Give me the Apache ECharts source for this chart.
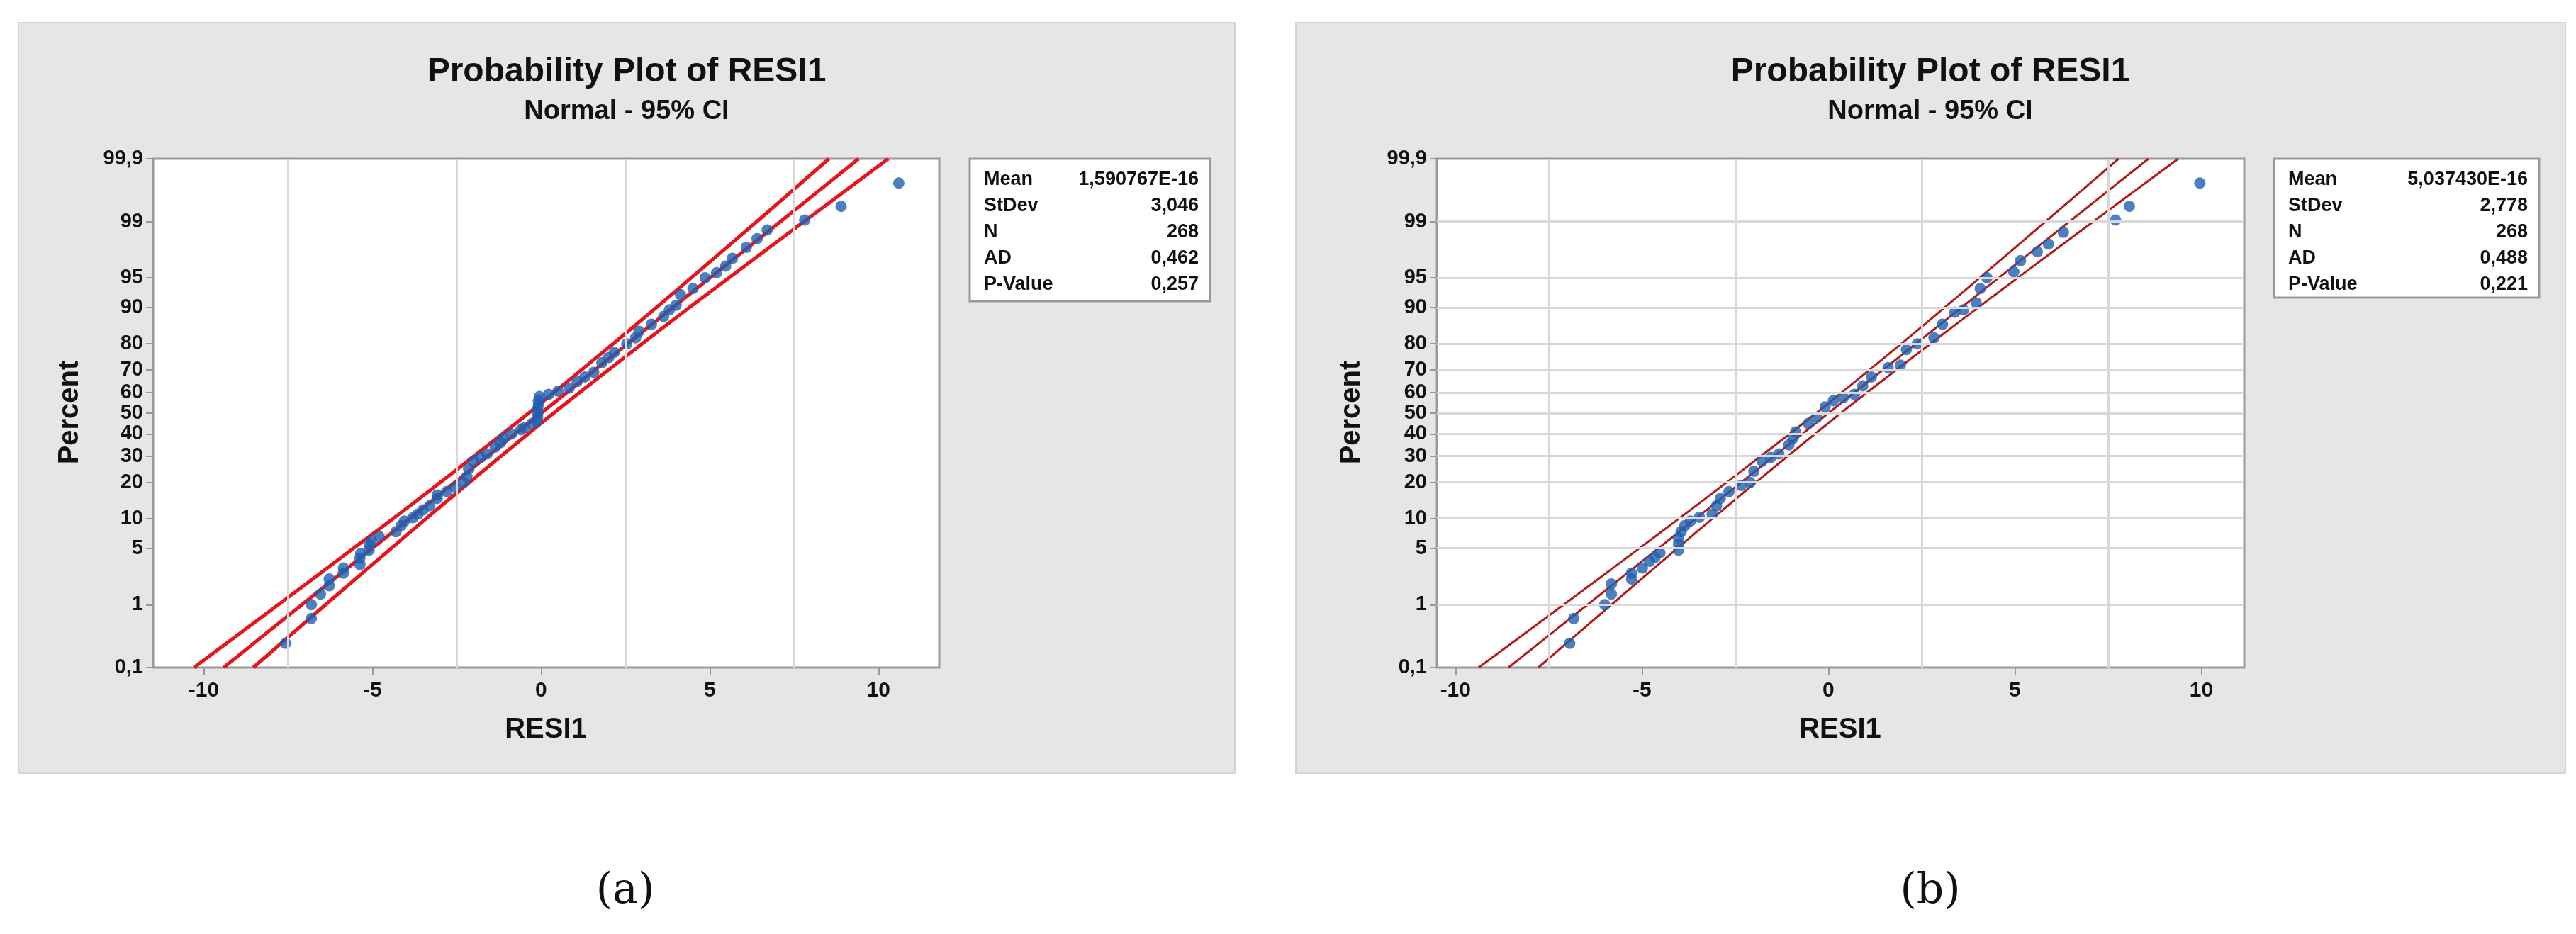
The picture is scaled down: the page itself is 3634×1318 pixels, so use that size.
<!DOCTYPE html>
<html>
<head>
<meta charset="utf-8">
<title>Probability Plot of RESI1</title>
<script src="https://cdn.jsdelivr.net/npm/echarts@6/dist/echarts.min.js"></script>
<style>
  html, body { margin: 0; padding: 0; background: #fff; }
  #main { width: 3634px; height: 1318px; }
</style>
</head>
<body>
<div id="main"></div>
<script>
// percent tick labels on the probability axis
var pctTicks = [0.1, 1, 5, 10, 20, 30, 40, 50, 60, 70, 80, 90, 95, 99, 99.9];
var xTicks = [-10, -5, 0, 5, 10];
var xGrid = [-7.5, -2.5, 2.5, 7.5];

// fit line + 95% CI, read at these percents
var linePct = [0.1, 1, 5, 10, 20, 50, 80, 90, 95, 99, 99.9];
var fitA   = [-9.41, -7.09, -5.01, -3.90, -2.56, 0, 2.56, 3.90, 5.01, 7.09, 9.41];
var lowA   = [-10.29, -7.79, -5.57, -4.39, -2.99, -0.37, 2.13, 3.41, 4.45, 6.39, 8.53];
var highA  = [-8.53, -6.39, -4.45, -3.41, -2.13, 0.37, 2.99, 4.39, 5.57, 7.79, 10.29];
var fitB   = [-8.58, -6.46, -4.57, -3.56, -2.34, 0, 2.34, 3.56, 4.57, 6.46, 8.58];
var lowB   = [-9.38, -7.10, -5.08, -4.01, -2.73, -0.33, 1.95, 3.11, 4.06, 5.82, 7.78];
var highB  = [-7.78, -5.82, -4.06, -3.11, -1.95, 0.33, 2.73, 4.01, 5.08, 7.10, 9.38];

// residuals [x, percent]
var ptsA = [[-7.57,0.26],[-6.81,0.63],[-6.81,1.0],[-6.54,1.4],[-6.28,1.8],[-6.28,2.2],[-5.86,2.6],[-5.86,3.0],
  [-5.37,3.3],[-5.37,3.9],[-5.35,4.4],[-5.1,4.8],[-5.08,5.5],[-5.03,6.0],[-4.8,6.7],[-4.3,7.5],[-4.15,8.6],[-4.05,9.5],
  [-3.8,10.2],[-3.65,11],[-3.5,12],[-3.3,13],[-3.08,15],[-3.08,16],[-2.8,17],[-2.55,18.5],[-2.3,20],[-2.2,22],[-2.15,25],
  [-2.0,28],[-1.8,29.5],[-1.6,31],[-1.36,34],[-1.2,36],[-1.12,38],[-0.88,40],[-0.6,42],[-0.5,43],[-0.27,45],
  [-0.12,46],[-0.1,48],[-0.1,50],[-0.1,52],[-0.08,54],[-0.08,56],[-0.05,58],[0.22,59],[0.5,60.5],[0.83,62],[1.07,65],
  [1.3,67],[1.56,69],[1.8,73],[2.0,75],[2.17,77],[2.54,80],[2.8,82],[2.9,84],[3.27,86],[3.63,88],[3.8,89.5],[4.0,90.5],
  [4.13,92.5],[4.5,93.5],[4.86,95],[5.2,95.6],[5.47,96.3],[5.67,97],[6.08,97.8],[6.4,98.3],[6.7,98.7],
  [7.81,99.05],[8.89,99.4],[10.6,99.74]];
var ptsB = [[-6.94,0.26],[-6.83,0.63],[-6.0,1.0],[-5.82,1.4],[-5.82,1.9],[-5.28,2.2],[-5.28,2.6],[-4.99,3.0],[-4.8,3.6],
  [-4.65,4.0],[-4.52,4.5],[-4.02,4.8],[-4.02,5.6],[-4.02,6.5],[-3.95,7.5],[-3.85,8.6],[-3.7,9.5],[-3.46,10.3],[-3.12,11],
  [-3.0,13],[-2.9,15],[-2.67,17],[-2.34,19],[-2.1,20],[-2.0,24],[-1.78,28],[-1.55,29.5],[-1.33,31],[-1.06,35],[-0.95,38],
  [-0.88,41],[-0.54,45],[-0.31,48],[-0.09,53],[0.13,56],[0.4,57.5],[0.7,59],[0.92,63],[1.15,67],[1.6,71],[1.93,72],
  [2.09,78],[2.38,80],[2.83,82],[3.06,86],[3.39,89],[3.62,89.5],[3.96,91],[4.07,93.5],[4.25,95],[4.97,95.7],[5.15,96.8],
  [5.6,97.5],[5.9,98],[6.3,98.6],[7.7,99.05],[8.07,99.4],[9.96,99.74]];

// inverse standard normal (Acklam), used as the probability-axis scale
function probit(p) {
  var a = [-39.69683028665376, 220.9460984245205, -275.9285104469687, 138.3577518672690, -30.66479806614716, 2.506628274631000];
  var b = [-54.47609879822406, 161.5858368580409, -155.6989798598866, 66.80131188771972, -13.28068155288572];
  var c = [-0.007784894002430293, -0.3223964580411365, -2.400758277161838, -2.549732539343734, 4.374664141464968, 2.938163982698783];
  var d = [0.007784695709041462, 0.3224671290700398, 2.445134137142996, 3.754408661907416];
  var q, r;
  if (p < 0.02425) {
    q = Math.sqrt(-2 * Math.log(p));
    return (((((c[0]*q+c[1])*q+c[2])*q+c[3])*q+c[4])*q+c[5]) / ((((d[0]*q+d[1])*q+d[2])*q+d[3])*q+1);
  } else if (p > 1 - 0.02425) {
    q = Math.sqrt(-2 * Math.log(1 - p));
    return -(((((c[0]*q+c[1])*q+c[2])*q+c[3])*q+c[4])*q+c[5]) / ((((d[0]*q+d[1])*q+d[2])*q+d[3])*q+1);
  }
  q = p - 0.5; r = q * q;
  return (((((a[0]*r+a[1])*r+a[2])*r+a[3])*r+a[4])*r+a[5])*q / (((((b[0]*r+b[1])*r+b[2])*r+b[3])*r+b[4])*r+1);
}
function z(pct) { return probit(pct / 100); }
var zTicks = pctTicks.map(z);
var zMin = z(0.1), zMax = z(99.9);

var FONT = '"Liberation Sans Narrow", "Liberation Sans", Arial, sans-serif';

function pair(xs) { return xs.map(function (x, i) { return [x, z(linePct[i])]; }); }
function pts(arr) { return arr.map(function (p) { return [p[0], z(p[1])]; }); }

function xAxisCfg(idx, min, max) {
  return {
    gridIndex: idx, type: 'value', min: min, max: max, position: 'bottom',
    axisLine: { show: false, onZero: false }, splitLine: { show: false },
    axisTick: { show: true, customValues: xTicks, length: 10, lineStyle: { color: '#999', width: 2 } },
    axisLabel: { customValues: xTicks, margin: 18, fontFamily: FONT, fontWeight: 'bold', fontSize: 30, color: '#111' }
  };
}
function yAxisCfg(idx) {
  return {
    gridIndex: idx, type: 'value', min: zMin, max: zMax, position: 'left',
    axisLine: { show: false, onZero: false }, splitLine: { show: false },
    axisTick: { show: true, customValues: zTicks, length: 10, lineStyle: { color: '#999', width: 2 } },
    axisLabel: {
      customValues: zTicks, margin: 14, fontFamily: FONT, fontWeight: 'bold', fontSize: 29, color: '#111',
      formatter: function (v) {
        var best = 0;
        zTicks.forEach(function (t, i) { if (Math.abs(t - v) < Math.abs(zTicks[best] - v)) best = i; });
        return String(pctTicks[best]).replace('.', ',');
      }
    }
  };
}
function gridLines(horizontal) {
  var d = xGrid.map(function (x) { return { xAxis: x }; });
  if (horizontal) zTicks.slice(1, -1).forEach(function (t) { d.push({ yAxis: t }); });
  return { silent: true, symbol: 'none', label: { show: false }, lineStyle: { color: '#d8d8d8', width: 3, type: 'solid' }, data: d };
}
function lineS(idx, data, color, w, ml) {
  var s = { type: 'line', xAxisIndex: idx, yAxisIndex: idx, data: data, smooth: 0.3, symbol: 'none',
    lineStyle: { color: color, width: w }, z: 3, silent: true };
  if (ml) s.markLine = ml;
  return s;
}
function dots(idx, data) {
  return { type: 'scatter', xAxisIndex: idx, yAxisIndex: idx, data: data, symbolSize: 16,
    itemStyle: { color: '#1f5faf' }, z: 4 };
}

function statBox(x, y, w, h, rows) {
  var els = [{ type: 'rect', shape: { x: x, y: y, width: w, height: h }, style: { fill: '#fff', stroke: '#999', lineWidth: 3 } }];
  rows.forEach(function (r, i) {
    var ty = y + 30 + i * 37;
    els.push({ type: 'text', x: x + 20, y: ty, style: { text: r[0], font: 'bold 27px ' + FONT, fill: '#111', textVerticalAlign: 'middle' } });
    els.push({ type: 'text', x: x + w - 16, y: ty, style: { text: r[1], font: 'bold 27px ' + FONT, fill: '#111', textAlign: 'right', textVerticalAlign: 'middle' } });
  });
  return els;
}
function txt(x, y, s, font, rot) {
  return { type: 'text', x: x, y: y, rotation: rot || 0,
    style: { text: s, font: font, fill: '#111', textAlign: 'center', textVerticalAlign: 'middle' } };
}

var chart = echarts.init(document.getElementById('main'));
chart.setOption({
  animation: false,
  grid: [
    { left: 216, top: 224, width: 1109, height: 718, show: true, backgroundColor: '#fff', borderColor: '#999', borderWidth: 3 },
    { left: 2027, top: 224, width: 1139, height: 718, show: true, backgroundColor: '#fff', borderColor: '#999', borderWidth: 3 }
  ],
  xAxis: [xAxisCfg(0, -11.5, 11.8), xAxisCfg(1, -10.5, 11.15)],
  yAxis: [yAxisCfg(0), yAxisCfg(1)],
  graphic: [
    { type: 'rect', z: -10, shape: { x: 26, y: 32, width: 1716, height: 1059 }, style: { fill: '#e6e6e6', stroke: '#d4d4d4', lineWidth: 2 } },
    { type: 'rect', z: -10, shape: { x: 1828, y: 32, width: 1791, height: 1059 }, style: { fill: '#e6e6e6', stroke: '#d4d4d4', lineWidth: 2 } },
    txt(884, 102, 'Probability Plot of RESI1', 'bold 48px ' + FONT),
    txt(884, 158, 'Normal - 95% CI', 'bold 38px ' + FONT),
    txt(2723, 102, 'Probability Plot of RESI1', 'bold 48px ' + FONT),
    txt(2723, 158, 'Normal - 95% CI', 'bold 38px ' + FONT),
    txt(770, 1030, 'RESI1', 'bold 40px ' + FONT),
    txt(2596, 1030, 'RESI1', 'bold 40px ' + FONT),
    txt(99, 582, 'Percent', 'bold 40px ' + FONT, Math.PI / 2),
    txt(1907, 582, 'Percent', 'bold 40px ' + FONT, Math.PI / 2),
    txt(882, 1258, '(a)', '60px "DejaVu Serif", "Liberation Serif", serif'),
    txt(2723, 1258, '(b)', '60px "DejaVu Serif", "Liberation Serif", serif')
  ].concat(
    statBox(1368, 224, 339, 201, [['Mean', '1,590767E-16'], ['StDev', '3,046'], ['N', '268'], ['AD', '0,462'], ['P-Value', '0,257']]),
    statBox(3208, 224, 374, 196, [['Mean', '5,037430E-16'], ['StDev', '2,778'], ['N', '268'], ['AD', '0,488'], ['P-Value', '0,221']])
  ),
  series: [
    lineS(0, pair(fitA), '#e8141b', 5, gridLines(false)),
    lineS(0, pair(lowA), '#e8141b', 5),
    lineS(0, pair(highA), '#e8141b', 5),
    dots(0, pts(ptsA)),
    lineS(1, pair(fitB), '#b01c1c', 3, gridLines(true)),
    lineS(1, pair(lowB), '#b01c1c', 3),
    lineS(1, pair(highB), '#b01c1c', 3),
    dots(1, pts(ptsB))
  ]
});
</script>
</body>
</html>
